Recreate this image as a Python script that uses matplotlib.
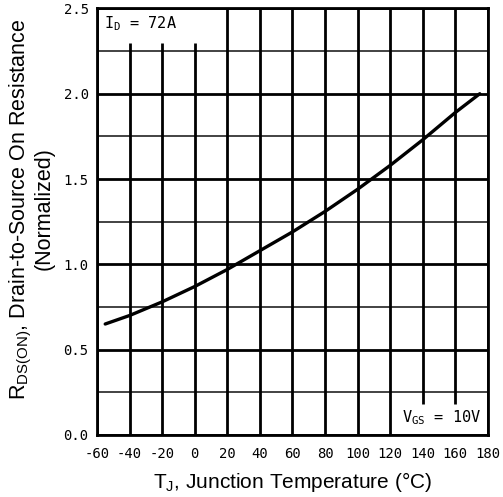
import matplotlib
matplotlib.use("Agg")
import matplotlib.pyplot as plt
import numpy as np

# Data
temps = [-55, -40, -20, 0, 20, 40, 60, 80, 100, 120, 140, 160, 175]
rds_norm = [0.65, 0.70, 0.78, 0.87, 0.97, 1.08, 1.19, 1.31, 1.44, 1.58, 1.73, 1.89, 2.00]
x_ticks = [-60, -40, -20, 0, 20, 40, 60, 80, 100, 120, 140, 160, 180]
y_ticks = [0.0, 0.5, 1.0, 1.5, 2.0, 2.5]
y_minor = [0.25, 0.75, 1.25, 1.75, 2.25]

fig = plt.figure(figsize=(5.03, 4.97), dpi=100)
ax = fig.add_axes([0.193, 0.125, 0.777, 0.858])
ax.set_xlim(-60, 180)
ax.set_ylim(0, 2.5)

# grid
for y in y_ticks:
    ax.axhline(y, color="black", lw=2.0, zorder=1)
for y in y_minor:
    ax.axhline(y, color="#222222", lw=1.2, zorder=1)
for x in x_ticks:
    if x in (-40, -20, 0):
        ax.plot([x, x], [0, 2.3], color="black", lw=2.0, zorder=1, solid_capstyle="butt")
    elif x in (140, 160):
        ax.plot([x, x], [0.18, 2.5], color="black", lw=2.0, zorder=1, solid_capstyle="butt")
    else:
        ax.axvline(x, color="black", lw=2.0, zorder=1)

ax.plot(temps, rds_norm, color="black", lw=2.4, zorder=3, solid_capstyle="round")

for s in ax.spines.values():
    s.set_linewidth(2.0)

ax.set_xticks(x_ticks)
ax.set_yticks(y_ticks)
ax.set_xticklabels([str(v) for v in x_ticks], family="DejaVu Sans Mono", fontsize=10)
ax.set_yticklabels([f"{v:.1f}" for v in y_ticks], family="DejaVu Sans Mono", fontsize=10)
ax.tick_params(axis="x", length=0, pad=9)
ax.tick_params(axis="y", length=0, pad=6)

ax.set_xlabel("T$_\\mathregular{J}$, Junction Temperature (°C)", family="Liberation Sans", fontsize=15, labelpad=6)
fig.text(31 / 503, 1 - 209 / 497,
         "R$_\\mathregular{DS(ON)}$, Drain-to-Source On Resistance\n(Normalized)",
         family="Liberation Sans", fontsize=15.5, linespacing=1.0,
         rotation=90, ha="center", va="center", multialignment="center")

ax.text(-56, 2.41, "I$_\\mathregular{D}$ = 72A", family="DejaVu Sans Mono", fontsize=11,
        va="center", ha="left", zorder=4)
ax.text(176, 0.1, "V$_\\mathregular{GS}$ = 10V", family="DejaVu Sans Mono", fontsize=11,
        va="center", ha="right", zorder=4)

fig.savefig("out.png", dpi=100)
